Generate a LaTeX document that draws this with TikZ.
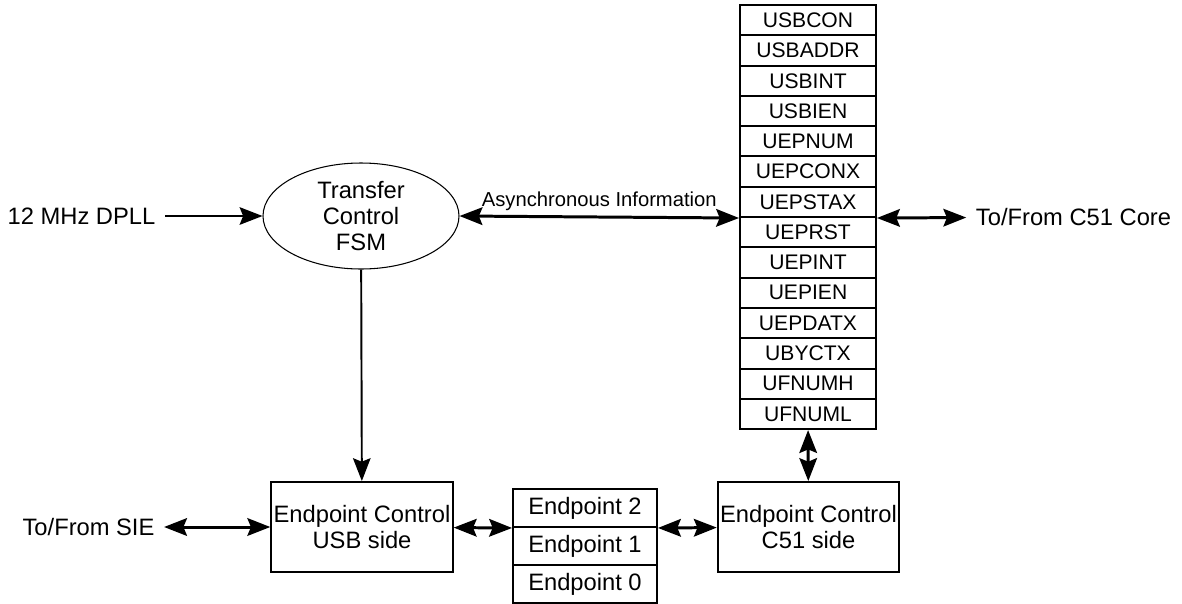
\documentclass[tikz,border=0pt]{standalone}
\usepackage{fontspec}
\setmainfont{Liberation Sans}
\usetikzlibrary{arrows.meta, shapes.geometric}

\tikzset{
  bigtip/.tip={Stealth[length=13pt, width=10pt, inset=2pt]},
  bus/.style={{bigtip}-{bigtip}, line width=1.7pt},
  sig/.style={-{bigtip}, line width=1.1pt},
  reg/.style={draw, line width=1.1pt, minimum width=2.72cm, minimum height=0.6057cm,
    inner sep=0pt, font=\fontsize{12}{14}\selectfont},
  blk/.style={draw, line width=1.1pt, minimum width=3.63cm, minimum height=1.8cm,
    inner sep=0pt, align=center, font=\fontsize{13.5}{14.5}\selectfont},
  epbox/.style={draw, line width=1.1pt, minimum width=2.88cm, minimum height=0.76cm,
    inner sep=0pt, font=\fontsize{13.5}{15}\selectfont},
  ext/.style={inner sep=0pt, outer sep=5.5pt, font=\fontsize{13.5}{15}\selectfont}
}

\begin{document}
\begin{tikzpicture}
    \useasboundingbox (0, 0) rectangle (23.64, -12.06);

    % register file
    \node [reg] (usbcon) at (16.16, -0.403) {USBCON};
    \node [reg] (usbaddr) at (16.16, -1.009) {USBADDR};
    \node [reg] (usbint) at (16.16, -1.615) {USBINT};
    \node [reg] (usbien) at (16.16, -2.221) {USBIEN};
    \node [reg] (uepnum) at (16.16, -2.826) {UEPNUM};
    \node [reg] (uepconx) at (16.16, -3.432) {UEPCONX};
    \node [reg] (uepstax) at (16.16, -4.038) {UEPSTAX};
    \node [reg] (ueprst) at (16.16, -4.644) {UEPRST};
    \node [reg] (uepint) at (16.16, -5.250) {UEPINT};
    \node [reg] (uepien) at (16.16, -5.856) {UEPIEN};
    \node [reg] (uepdatx) at (16.16, -6.462) {UEPDATX};
    \node [reg] (ubyctx) at (16.16, -7.068) {UBYCTX};
    \node [reg] (ufnumh) at (16.16, -7.673) {UFNUMH};
    \node [reg] (ufnuml) at (16.16, -8.279) {UFNUML};

    \node [draw, ellipse, line width=.6pt, minimum width=3.92cm, minimum height=2.12cm,
      inner sep=0pt, align=center, font=\fontsize{13.5}{15}\selectfont]
      (fsm) at (7.22, -4.32) {Transfer\\Control\\FSM};

    \node [blk] (usb) at (7.24, -10.54) {Endpoint Control\\USB side};
    \node [blk] (c51) at (16.17, -10.54) {Endpoint Control\\C51 side};

    \node [epbox] (ep2) at (11.7, -10.16) {Endpoint 2};
    \node [epbox] (ep1) at (11.7, -10.92) {Endpoint 1};
    \node [epbox] (ep0) at (11.7, -11.68) {Endpoint 0};

    \node [ext] (dpll) at (1.63, -4.32) {12 MHz DPLL};
    \node [ext] (sie) at (1.77, -10.54) {To/From SIE};
    \node [ext] (core) at (21.47, -4.34) {To/From C51 Core};

    \draw [sig] (dpll) -- (fsm);
    \draw [sig] (fsm) -- (usb);
    \draw [bus] (fsm.east) -- node [above=2.5pt, inner sep=0pt, font=\fontsize{11.5}{13}\selectfont]
      {Asynchronous Information} (uepstax.south west);
    \draw [bus] (uepstax.south east) -- (core);
    \draw [bus] (ufnuml) -- (c51);
    \draw [bus] (sie) -- (usb);
    \draw [bus] (usb) -- (ep2.south west);
    \draw [bus] (ep2.south east) -- (c51);
\end{tikzpicture}
\end{document}
